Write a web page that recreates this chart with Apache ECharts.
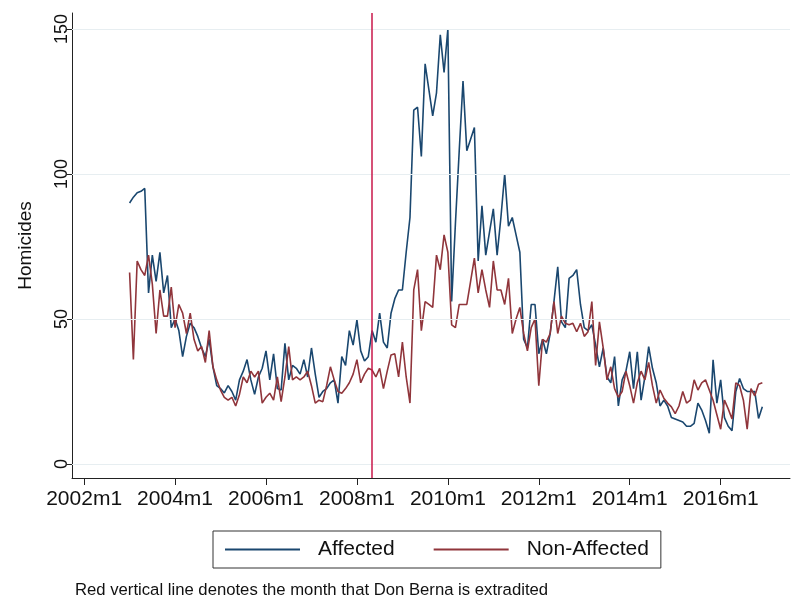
<!DOCTYPE html>
<html>
<head>
<meta charset="utf-8">
<title>Homicides, affected vs non-affected areas</title>
<script src="https://cdn.jsdelivr.net/npm/echarts@6/dist/echarts.min.js"></script>
<style>
  html, body { margin: 0; padding: 0; background: #ffffff; }
  #chart { width: 796px; height: 604px; }
</style>
</head>
<body>
<div id="chart"></div>
<script>
// Monthly homicide counts, 2003m1 .. 2016m12
const years = [2003, 2004, 2005, 2006, 2007, 2008, 2009, 2010, 2011, 2012, 2013, 2014, 2015, 2016];

const affected = [
  90, 92, 93.5, 94, 95, 59, 72, 63, 73, 59, 65, 47,          // 2003
  50, 46, 37, 44, 48.5, 47, 44, 40, 37, 43, 33.5, 27,         // 2004
  26, 24.5, 27, 25, 22, 29, 32, 36, 29, 24, 30, 33,           // 2005
  39, 29, 38, 26, 25.5, 41.6, 29, 34, 33, 31, 36, 30,         // 2006
  40, 31, 23, 25, 26, 28, 29, 21, 37, 34, 46, 41,             // 2007
  49.7, 39, 35.5, 37, 46, 42, 52, 42, 40, 52, 57, 60,         // 2008
  60, 73, 85, 122, 123, 106, 138, 129, 120, 128, 148, 135,    // 2009
  150, 56, 83, 108, 132, 108, 112, 116, 70, 89, 72, 80,       // 2010
  88, 72, 85, 100, 82, 85, 79, 73, 43, 40, 55, 55,            // 2011
  38, 43, 38, 45, 56, 68, 49, 47, 64, 65, 67, 55,             // 2012
  47, 46, 48, 41, 33.5, 40, 30, 28, 37, 20, 29, 32,           // 2013
  38.7, 26, 38.7, 22, 30, 40.5, 33, 28, 20, 22, 20, 16,       // 2014
  15.5, 15, 14.5, 13, 13, 14, 21, 18.6, 15, 10.6, 35.9, 21,   // 2015
  29, 16, 13, 11.5, 25, 29.5, 26, 25, 25, 25, 15.7, 19.7      // 2016
];

const nonAffected = [
  66, 36, 70, 67, 65, 72, 62, 45, 60, 51, 51, 61,             // 2003
  47, 55, 52, 45, 52, 43, 39, 40.5, 35, 46, 33.5, 29,         // 2004
  25.5, 23, 22, 23, 20, 24, 30, 28, 32, 30, 32, 21,           // 2005
  23, 24.4, 22, 30, 21.5, 30, 40.5, 29, 30, 29, 30, 32,       // 2006
  27, 21, 22, 21.5, 27, 33.5, 29, 25, 24.4, 26, 28, 31,       // 2007
  36, 28, 31, 33, 32.4, 30, 33, 26, 32, 37.6, 38, 30,         // 2008
  42, 30, 21, 60, 67, 46, 56, 55, 54, 72, 67, 79,             // 2009
  73, 48, 47, 55, 55, 55, 63, 71, 59, 67, 60, 54,             // 2010
  70, 60, 60, 55, 64, 45, 50, 54, 45, 39, 47, 50,             // 2011
  27, 43, 42, 45, 56, 45, 51, 48.5, 48, 48.5, 45.6, 48.5,     // 2012
  44, 45.6, 56, 34, 49, 40, 29, 33.5, 26, 23, 25, 32,         // 2013
  27, 21, 28, 32, 29, 35, 27, 21, 25.5, 22.7, 21, 19.7,       // 2014
  17.4, 20, 25, 21, 22, 29, 25.5, 28, 29, 25.5, 22, 17,       // 2015
  12, 22, 19, 15.5, 28, 27, 22, 12, 26, 23.5, 27.5, 28        // 2016
];

const xTickLabels = ['2002m1', '2004m1', '2006m1', '2008m1', '2010m1', '2012m1', '2014m1', '2016m1'];
const yTickValues = [0, 50, 100, 150];
const extraditionMonth = '2008m5';

// Stata-style monthly date: months elapsed since 2002m1
const BASE_YEAR = 2002;
function monthIndex(label) {
  const m = /^(\d{4})m(\d{1,2})$/.exec(label);
  return (Number(m[1]) - BASE_YEAR) * 12 + (Number(m[2]) - 1);
}
function monthLabel(idx) {
  const y = BASE_YEAR + Math.floor(idx / 12);
  return y + 'm' + ((idx % 12) + 1);
}

const monthLabels = [];
years.forEach(y => { for (let m = 1; m <= 12; m++) monthLabels.push(y + 'm' + m); });

const affectedData = monthLabels.map((lab, i) => [monthIndex(lab), affected[i]]);
const nonAffectedData = monthLabels.map((lab, i) => [monthIndex(lab), nonAffected[i]]);
const xTickValues = xTickLabels.map(monthIndex);

const FONT = '"Liberation Sans", Arial, Helvetica, sans-serif';
const AXIS_COLOR = '#222222';

const chart = echarts.init(document.getElementById('chart'), null, { renderer: 'canvas' });

chart.setOption({
  animation: false,
  backgroundColor: '#ffffff',
  textStyle: { fontFamily: FONT },
  grid: { left: 72, right: 6, top: 13, bottom: 126, containLabel: false },
  xAxis: {
    type: 'value',
    min: -3.2,
    max: 186.3,
    axisLine: { show: true, onZero: false, lineStyle: { color: AXIS_COLOR, width: 1 } },
    axisTick: { show: true, customValues: xTickValues, length: 7, lineStyle: { color: AXIS_COLOR } },
    axisLabel: {
      customValues: xTickValues,
      formatter: v => monthLabel(Math.round(v)),
      fontSize: 21, color: '#111', margin: 11, fontFamily: FONT
    },
    splitLine: { show: false }
  },
  yAxis: {
    type: 'value',
    min: -4.83,
    max: 155.5,
    name: 'Homicides',
    nameLocation: 'middle',
    nameRotate: 90,
    nameGap: 37,
    nameTextStyle: { fontSize: 19, color: '#111', fontFamily: FONT },
    axisLine: { show: true, onZero: false, lineStyle: { color: AXIS_COLOR, width: 1 } },
    axisTick: { show: true, customValues: yTickValues, length: 5, lineStyle: { color: AXIS_COLOR } },
    axisLabel: {
      customValues: yTickValues,
      rotate: 90,
      fontSize: 18, color: '#111', margin: 1, fontFamily: FONT
    },
    splitLine: { show: false }
  },
  legend: {
    data: ['Affected', 'Non-Affected'],
    left: 213,
    top: 531,
    orient: 'horizontal',
    icon: 'rect',
    itemWidth: 75,
    itemHeight: 2,
    itemGap: 39,
    padding: [8, 12, 8, 12],
    borderColor: '#333333',
    borderWidth: 1,
    textStyle: { fontSize: 21, color: '#111', fontFamily: FONT, padding: [0, 0, 0, 13] }
  },
  graphic: [{
    type: 'text',
    left: 75,
    top: 582,
    style: {
      text: 'Red vertical line denotes the month that Don Berna is extradited',
      font: '16.7px ' + FONT,
      fill: '#111'
    }
  }],
  series: [
    {
      // horizontal grid lines at the labelled y values
      name: 'grid',
      type: 'line',
      data: [],
      z: 1,
      silent: true,
      markLine: {
        silent: true,
        symbol: ['none', 'none'],
        label: { show: false },
        lineStyle: { color: '#e7eef1', width: 1, type: 'solid' },
        data: yTickValues.map(v => ({ yAxis: v }))
      }
    },
    {
      name: 'Affected',
      type: 'line',
      data: affectedData,
      showSymbol: false,
      symbol: 'none',
      z: 2,
      lineStyle: { color: '#1a476f', width: 1.6 },
      itemStyle: { color: '#1a476f' }
    },
    {
      name: 'Non-Affected',
      type: 'line',
      data: nonAffectedData,
      showSymbol: false,
      symbol: 'none',
      z: 2,
      lineStyle: { color: '#90353b', width: 1.6 },
      itemStyle: { color: '#90353b' }
    },
    {
      // month of the extradition
      name: 'extradition',
      type: 'line',
      data: [],
      z: 3,
      silent: true,
      markLine: {
        silent: true,
        symbol: ['none', 'none'],
        label: { show: false },
        lineStyle: { color: '#c8174a', width: 1.5, type: 'solid' },
        data: [{ xAxis: monthIndex(extraditionMonth) }]
      }
    }
  ]
});
</script>
</body>
</html>
